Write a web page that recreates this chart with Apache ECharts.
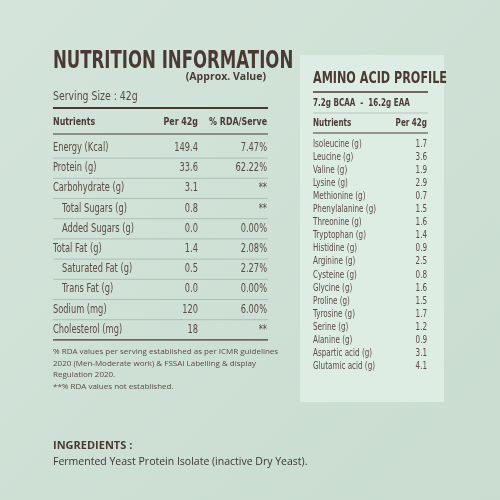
<!DOCTYPE html><html><head><meta charset="utf-8"><script src="https://cdn.jsdelivr.net/npm/echarts@6/dist/echarts.min.js"></script>
<style>html,body{margin:0;padding:0}#c{width:500px;height:500px}</style></head><body><div id="c"></div><script>
const nutrients=["Energy (Kcal)","Protein (g)","Carbohydrate (g)","Total Sugars (g)","Added Sugars (g)","Total Fat (g)","Saturated Fat (g)","Trans Fat (g)","Sodium (mg)","Cholesterol (mg)"];
const indented=[false,false,false,true,true,false,true,true,false,false];
const per42=["149.4","33.6","3.1","0.8","0.0","1.4","0.5","0.0","120","18"];
const rda=["7.47%","62.22%","**","**","0.00%","2.08%","2.27%","0.00%","6.00%","**"];
const aminos=["Isoleucine (g)","Leucine (g)","Valine (g)","Lysine (g)","Methionine (g)","Phenylalanine (g)","Threonine (g)","Tryptophan (g)","Histidine (g)","Arginine (g)","Cysteine (g)","Glycine (g)","Proline (g)","Tyrosine (g)","Serine (g)","Alanine (g)","Aspartic acid (g)","Glutamic acid (g)"];
const aminoVals=["1.7","3.6","1.9","2.9","0.7","1.5","1.6","1.4","0.9","2.5","0.8","1.6","1.5","1.7","1.2","0.9","3.1","4.1"];
const footnotes=["% RDA values per serving established as per ICMR guidelines","2020 (Men-Moderate work) & FSSAI Labelling & display","Regulation 2020.","**% RDA values not established."];

const NF="'DejaVu Sans',sans-serif";
const DARK="#4a3a34", TXT="#5a4a44";
const g=[];
function t(x,y,text,o,sx){g.push({type:'text',x,y,scaleX:sx===undefined?0.72:sx,style:Object.assign({text,fill:TXT,font:'12px '+NF,textVerticalAlign:'middle'},o||{})});}
function ln(x1,x2,y,w,c){g.push({type:'line',shape:{x1,y1:y,x2,y2:y},style:{stroke:c||'#9aa8a0',lineWidth:w||0.6}});}
g.push({type:'rect',shape:{x:0,y:0,width:500,height:500},style:{fill:new echarts.graphic.LinearGradient(0,0,1,1,[{offset:0,color:'#d4e4db'},{offset:1,color:'#c9dccf'}])}});
g.push({type:'rect',shape:{x:300,y:55,width:144,height:347},style:{fill:'#deede4'}});
t(53,62,'NUTRITION INFORMATION',{font:'bold 24px '+NF,fill:DARK},0.69);
t(266,77,'(Approx. Value)',{font:'bold 10.5px "Open Sans",sans-serif',fill:DARK,textAlign:'right'},1);
t(53,97,'Serving Size : 42g',{font:'13px '+NF});
ln(53,268,108,1.8,DARK);
t(53,122,'Nutrients',{font:'bold 11px '+NF,fill:DARK});
t(198,122,'Per 42g',{font:'bold 11px '+NF,fill:DARK,textAlign:'right'});
t(267,122,'% RDA/Serve',{font:'bold 11px '+NF,fill:DARK,textAlign:'right'});
ln(53,268,134,1.2,DARK);
nutrients.forEach((n,i)=>{const y=148+i*20.2;
 t(indented[i]?62:53,y,n,{font:'11.5px '+NF});t(198,y,per42[i],{font:'11.5px '+NF,textAlign:'right'});t(267,y,rda[i],{font:'11.5px '+NF,textAlign:'right'});
 ln(53,268,y+10.1,i==nutrients.length-1?1.2:0.6,i==nutrients.length-1?DARK:null);});
footnotes.forEach((f,i)=>t(53,352+i*11.6,f,{font:'8px "Open Sans",sans-serif'},1));
t(53,446,'INGREDIENTS :',{font:'bold 11px "Open Sans",sans-serif',fill:DARK},1);
t(53,462,'Fermented Yeast Protein Isolate (inactive Dry Yeast).',{font:'10.5px "Open Sans",sans-serif',fill:'#3e3430'},1);
t(313,79,'AMINO ACID PROFILE',{font:'bold 16px '+NF,fill:DARK},0.7);
ln(313,428,92,1.6,DARK);
t(313,103,'7.2g BCAA  -  16.2g EAA',{font:'bold 10px '+NF,fill:DARK});
ln(313,428,113,0.6);
t(313,123,'Nutrients',{font:'bold 10px '+NF,fill:DARK});
t(427,123,'Per 42g',{font:'bold 10px '+NF,fill:DARK,textAlign:'right'});
ln(313,428,133,1,DARK);
aminos.forEach((a,i)=>{const y=144+i*13.1;t(313,y,a,{font:'10px '+NF});t(427,y,aminoVals[i],{font:'10px '+NF,textAlign:'right'});});
const ch=echarts.init(document.getElementById('c'));
ch.setOption({graphic:g});
</script></body></html>
